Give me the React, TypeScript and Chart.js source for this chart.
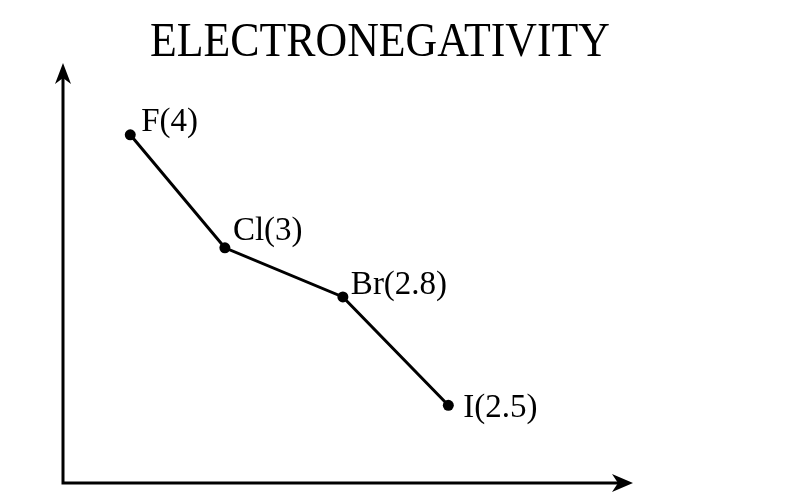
import React, { useEffect, useRef } from "react";
import { Chart, registerables } from "chart.js";

Chart.register(...registerables);

// Data
const chartTitle = "ELECTRONEGATIVITY";
const elements = ["F", "Cl", "Br", "I"];
const electronegativity = [4, 3, 2.8, 2.5];
const xPosition = [11.8, 28.4, 49.1, 67.6];
const yLevel = [82.9, 56.0, 44.3, 18.5];

// Label placement (style only): offsets in px from each point to the text baseline start
const labelDx = [11, 8, 8, 15];
const labelDy = [-4, -8, -3, 12];

const FONT = "'Liberation Serif', 'Times New Roman', serif";

const decorPlugin = {
  id: "decor",
  afterDraw(chart: any) {
    const { ctx, chartArea } = chart;
    const { left, right, top, bottom } = chartArea;
    ctx.save();
    ctx.fillStyle = "#000";
    ctx.strokeStyle = "#000";
    // axes
    ctx.lineWidth = 3;
    ctx.beginPath();
    ctx.moveTo(left, bottom + 1.5);
    ctx.lineTo(left, top + 14);
    ctx.moveTo(left - 1.5, bottom);
    ctx.lineTo(right - 14, bottom);
    ctx.stroke();
    // y arrow head
    ctx.beginPath();
    ctx.moveTo(left, top);
    ctx.lineTo(left + 8, top + 21);
    ctx.lineTo(left, top + 15);
    ctx.lineTo(left - 8, top + 21);
    ctx.closePath();
    ctx.fill();
    // x arrow head
    ctx.beginPath();
    ctx.moveTo(right, bottom);
    ctx.lineTo(right - 21, bottom + 9);
    ctx.lineTo(right - 15, bottom);
    ctx.lineTo(right - 21, bottom - 9);
    ctx.closePath();
    ctx.fill();
    // title (slightly condensed, like the reference)
    ctx.save();
    ctx.font = `49px ${FONT}`;
    ctx.textAlign = "left";
    ctx.textBaseline = "alphabetic";
    const tw = ctx.measureText(chartTitle).width;
    const sx = 460 / tw;
    ctx.translate(150, 56);
    ctx.scale(sx, 1);
    ctx.fillText(chartTitle, 0, 0);
    ctx.restore();
    // point labels
    const meta = chart.getDatasetMeta(0);
    ctx.font = `33px ${FONT}`;
    ctx.textAlign = "left";
    ctx.textBaseline = "alphabetic";
    meta.data.forEach((pt: any, i: number) => {
      ctx.fillText(
        `${elements[i]}(${electronegativity[i]})`,
        pt.x + labelDx[i],
        pt.y + labelDy[i]
      );
    });
    ctx.restore();
  },
};

export default function App() {
  const ref = useRef<HTMLCanvasElement>(null);
  useEffect(() => {
    if (!ref.current) return;
    const chart = new Chart(ref.current, {
      type: "line",
      data: {
        datasets: [
          {
            data: xPosition.map((x, i) => ({ x, y: yLevel[i] })),
            borderColor: "#000",
            backgroundColor: "#000",
            borderWidth: 3,
            pointRadius: 5.5,
            pointBackgroundColor: "#000",
            pointBorderWidth: 0,
            tension: 0,
            clip: false as any,
          },
        ],
      },
      options: {
        responsive: false,
        animation: false,
        layout: { padding: { left: 63, right: 158, top: 63, bottom: 14 } },
        scales: {
          x: { type: "linear", min: 0, max: 100, display: false },
          y: { type: "linear", min: 0, max: 100, display: false },
        },
        plugins: {
          legend: { display: false },
          title: { display: false },
          tooltip: { enabled: false },
        },
      },
      plugins: [decorPlugin],
    });
    return () => chart.destroy();
  }, []);
  return (
    <div style={{ position: "fixed", left: 0, top: 0, width: 791, height: 497, background: "#fff" }}>
      <canvas ref={ref} width={791} height={497} />
    </div>
  );
}
